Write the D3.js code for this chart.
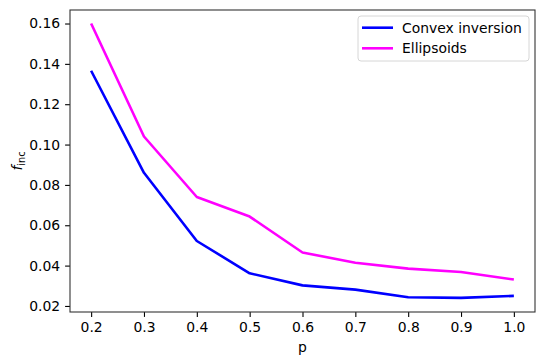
<!DOCTYPE html>
<html>
<head>
<meta charset="utf-8">
<script src="https://cdn.jsdelivr.net/npm/d3@7"></script>
<style>
  body { margin: 0; background: #fff; }
  text { font-family: "DejaVu Sans", sans-serif; fill: #000; }
</style>
</head>
<body>
<script>
// data
var pValues = [0.2, 0.3, 0.4, 0.5, 0.6, 0.7, 0.8, 0.9, 1.0];
var convexInversion = [0.1366, 0.0860, 0.0522, 0.0362, 0.0302, 0.0281, 0.0243, 0.0240, 0.0250];
var ellipsoids = [0.1600, 0.1040, 0.0740, 0.0643, 0.0465, 0.0414, 0.0385, 0.0368, 0.0331];
var xTicks = [0.2, 0.3, 0.4, 0.5, 0.6, 0.7, 0.8, 0.9, 1.0];
var yTicks = [0.02, 0.04, 0.06, 0.08, 0.10, 0.12, 0.14, 0.16];
var seriesNames = ["Convex inversion", "Ellipsoids"];
var seriesColors = ["#0000ff", "#ff00ff"];

var svgWidth = 545;
var svgHeight = 364;
var margin = { top: 10, right: 10, bottom: 52, left: 70 };
var width = svgWidth - margin.left - margin.right;
var height = svgHeight - margin.top - margin.bottom;
var fontSize = 13.9;

var svg = d3.select("body")
  .append("svg")
  .attr("width", svgWidth)
  .attr("height", svgHeight);

var chartGroup = svg.append("g")
  .attr("transform", `translate(${margin.left}, ${margin.top})`);

var xScale = d3.scaleLinear()
  .domain([0.16, 1.04])
  .range([0, width]);

var yScale = d3.scaleLinear()
  .domain([0.017, 0.1667])
  .range([height, 0]);

var bottomAxis = d3.axisBottom(xScale)
  .tickValues(xTicks)
  .tickFormat(d3.format(".1f"))
  .tickSizeOuter(0)
  .tickSize(4.9)
  .tickPadding(4.9);

var leftAxis = d3.axisLeft(yScale)
  .tickValues(yTicks)
  .tickFormat(d3.format(".2f"))
  .tickSizeOuter(0)
  .tickSize(4.9)
  .tickPadding(4.9);

var xAxisG = chartGroup.append("g")
  .attr("transform", `translate(0, ${height})`)
  .call(bottomAxis);

var yAxisG = chartGroup.append("g")
  .call(leftAxis);

[xAxisG, yAxisG].forEach(function (g) {
  g.select(".domain").remove();
  g.selectAll(".tick line").attr("stroke", "#000").attr("stroke-width", 1.1);
  g.selectAll(".tick text").attr("font-size", fontSize).attr("font-family", "DejaVu Sans");
});

// lines
var line = d3.line()
  .x((d, i) => xScale(pValues[i]))
  .y(d => yScale(d));

[convexInversion, ellipsoids].forEach(function (series, k) {
  chartGroup.append("path")
    .datum(series)
    .attr("fill", "none")
    .attr("stroke", seriesColors[k])
    .attr("stroke-width", 2.6)
    .attr("stroke-linejoin", "round")
    .attr("d", line);
});

// frame
chartGroup.append("rect")
  .attr("x", 0)
  .attr("y", 0)
  .attr("width", width)
  .attr("height", height)
  .attr("fill", "none")
  .attr("stroke", "#333")
  .attr("stroke-width", 1.1);

// legend
var legend = chartGroup.append("g")
  .attr("transform", `translate(${width - 177}, 6)`);

legend.append("rect")
  .attr("width", 171)
  .attr("height", 45)
  .attr("rx", 3)
  .attr("fill", "#fff")
  .attr("fill-opacity", 0.8)
  .attr("stroke", "#d6d6d6")
  .attr("stroke-width", 1);

seriesNames.forEach(function (name, i) {
  var y = 11.7 + i * 20.6;
  legend.append("line")
    .attr("x1", 4)
    .attr("x2", 35)
    .attr("y1", y)
    .attr("y2", y)
    .attr("stroke", seriesColors[i])
    .attr("stroke-width", 2.6);
  legend.append("text")
    .attr("x", 44)
    .attr("y", y)
    .attr("dy", "0.35em")
    .attr("font-size", fontSize)
    .text(name);
});

// axis labels
chartGroup.append("text")
  .attr("x", width / 2)
  .attr("y", height + 40)
  .attr("text-anchor", "middle")
  .attr("font-size", fontSize)
  .text("p");

var yLabel = svg.append("text")
  .attr("transform", `translate(22, ${margin.top + height / 2}) rotate(-90)`)
  .attr("text-anchor", "middle")
  .attr("font-size", fontSize);
yLabel.append("tspan").attr("font-style", "italic").text("f");
yLabel.append("tspan").attr("font-size", 9.7).attr("dy", 3).text("inc");
</script>
</body>
</html>
